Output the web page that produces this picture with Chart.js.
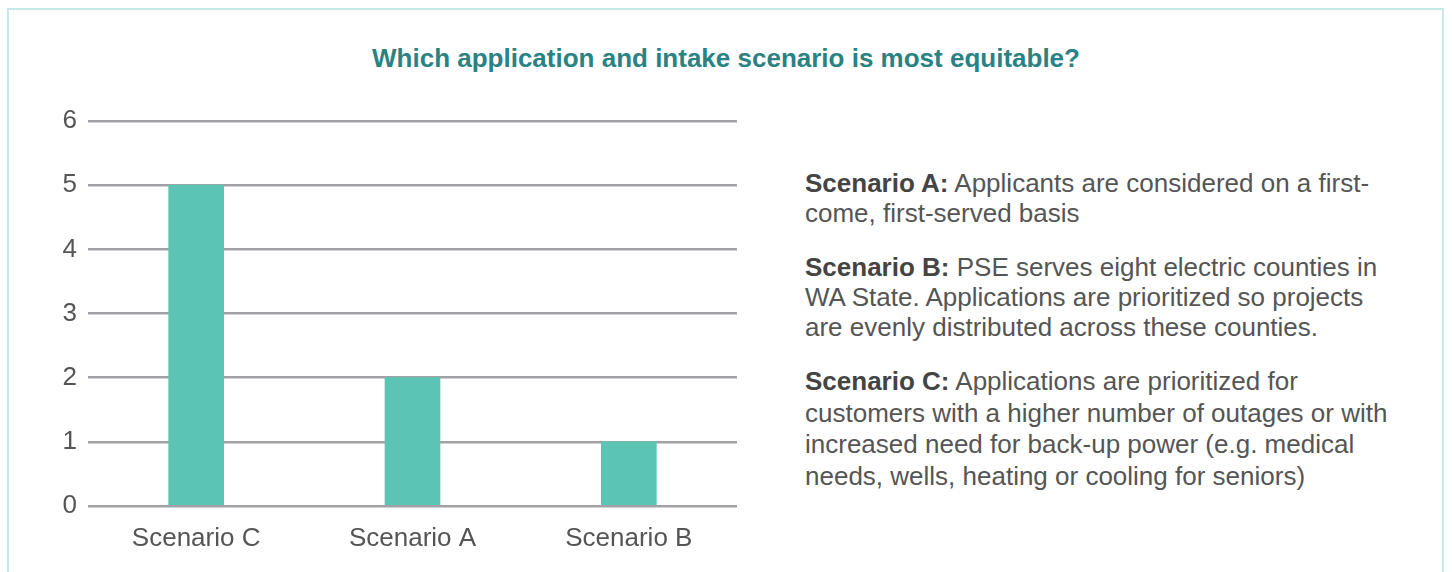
<!DOCTYPE html>
<html>
<head>
<meta charset="utf-8">
<script src="https://cdn.jsdelivr.net/npm/chart.js@4"></script>
<style>
  body { margin: 0; background: #fff; font-family: "Liberation Sans", Arial, sans-serif; }
  .frame { position: absolute; left: 7px; top: 8px; width: 1437px; height: 600px; border: 2px solid #c5e9e6; box-sizing: border-box; }
  h1 { position: absolute; left: 0; top: 42px; width: 1452px; margin: 0; text-align: center; font-size: 26px; line-height: 32px; font-weight: bold; color: #2a8283; }
  #chart { position: absolute; left: 0; top: 0; }
  .notes { position: absolute; left: 805px; top: 168px; font-size: 26px; line-height: 30px; color: #555; white-space: nowrap; }
  .notes p { margin: 0 0 24px 0; }
  .notes p:last-child { line-height: 31.5px; }
  .notes b { color: #444; }
</style>
</head>
<body>
<div class="frame"></div>
<h1>Which application and intake scenario is most equitable?</h1>
<canvas id="chart" width="760" height="572"></canvas>
<div class="notes">
  <p><b>Scenario A:</b> Applicants are considered on a first-<br>come, first-served basis</p>
  <p><b>Scenario B:</b> PSE serves eight electric counties in<br>WA State. Applications are prioritized so projects<br>are evenly distributed across these counties.</p>
  <p><b>Scenario C:</b> Applications are prioritized for<br>customers with a higher number of outages or with<br>increased need for back-up power (e.g. medical<br>needs, wells, heating or cooling for seniors)</p>
</div>
<script>
// chart data
const scenarios = ['Scenario C', 'Scenario A', 'Scenario B'];
const votes = [5, 2, 1];
const yTicks = [0, 1, 2, 3, 4, 5, 6];

const ctx = document.getElementById('chart').getContext('2d');
const chart = new Chart(ctx, {
    type: 'bar',
    data: {
        labels: scenarios,
        datasets: [{
            data: votes,
            backgroundColor: '#5bc4b4',
            barThickness: 55
        }]
    },
    options: {
        responsive: false,
        animation: false,
        layout: { padding: { top: 121, right: 23, left: 0, bottom: 0 } },
        plugins: { legend: { display: false }, tooltip: { enabled: false } },
        scales: {
            y: {
                min: yTicks[0],
                max: yTicks[yTicks.length - 1],
                afterFit: scale => { scale.width = 88; },
                afterBuildTicks: scale => { scale.ticks = yTicks.map(v => ({ value: v })); },
                border: { display: false },
                grid: { color: '#a2a2a6', lineWidth: 2.5, drawTicks: false },
                ticks: { padding: 11, color: '#555', font: { family: 'Liberation Sans', size: 26 } }
            },
            x: {
                afterFit: scale => { scale.height = 66; },
                border: { display: false },
                grid: { display: false },
                ticks: { padding: 9, color: '#555', font: { family: 'Liberation Sans', size: 26 } }
            }
        }
    }
});
</script>
</body>
</html>
